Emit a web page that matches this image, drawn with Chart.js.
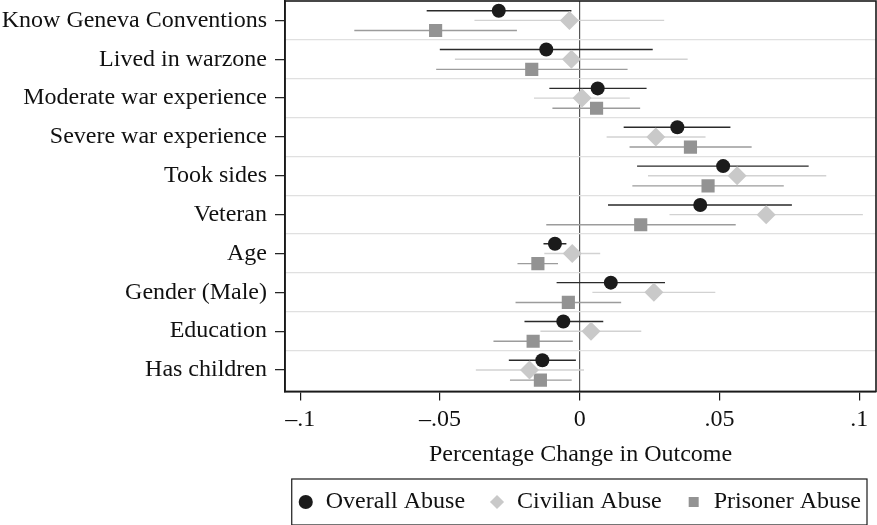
<!DOCTYPE html>
<html>
<head>
<meta charset="utf-8">
<script src="https://cdn.jsdelivr.net/npm/chart.js@4.4.1/dist/chart.umd.min.js"></script>
<style>
  html, body { margin: 0; padding: 0; background: #fff; }
  #wrap { width: 877px; height: 525px; position: relative; }
</style>
</head>
<body>
<div id="wrap"><canvas id="coefChart"></canvas></div>
<script>
// row labels, top to bottom
const categories = [
    "Know Geneva Conventions", "Lived in warzone", "Moderate war experience",
    "Severe war experience", "Took sides", "Veteran", "Age",
    "Gender (Male)", "Education", "Has children"
];

// point estimates
const overallEst  = [-0.029, -0.012, 0.0064, 0.0349, 0.0513, 0.0431, -0.0089, 0.0111, -0.0059, -0.0134];
const civilianEst = [-0.0037, -0.003, 0.0008, 0.0272, 0.0563, 0.0667, -0.0027, 0.0265, 0.004, -0.018];
const prisonerEst = [-0.0516, -0.0172, 0.006, 0.0396, 0.0459, 0.0218, -0.015, -0.0041, -0.0167, -0.0141];

// confidence intervals (low, high)
const overallLo  = [-0.0548, -0.0501, -0.0109, 0.0157, 0.0205, 0.0101, -0.013, -0.0083, -0.0198, -0.0254];
const overallHi  = [-0.003, 0.0261, 0.0239, 0.0539, 0.0819, 0.0759, -0.0048, 0.0305, 0.0084, -0.0014];
const civilianLo = [-0.0377, -0.0447, -0.0164, 0.0096, 0.0244, 0.0321, -0.0127, 0.0045, -0.0141, -0.0372];
const civilianHi = [0.0302, 0.0386, 0.0179, 0.045, 0.0882, 0.1013, 0.0073, 0.0485, 0.022, 0.0015];
const prisonerLo = [-0.0807, -0.0514, -0.0098, 0.0178, 0.0188, -0.012, -0.0223, -0.023, -0.0309, -0.025];
const prisonerHi = [-0.0225, 0.0171, 0.0216, 0.0615, 0.073, 0.0558, -0.0078, 0.0148, -0.0025, -0.0029];

const xTicks = [-0.1, -0.05, 0, 0.05, 0.1];
const xTickLabels = ["\u2013.1", "\u2013.05", "0", ".05", ".1"];

const seriesNames = ["Overall Abuse", "Civilian Abuse", "Prisoner Abuse"];
const rowShift = [-0.25, 0, 0.26];   // vertical offset inside each row

const serif = "'Liberation Serif', 'DejaVu Serif', serif";

const points = (est, k) => est.map((v, i) => ({ x: v, y: i + rowShift[k] }));

// each CI is a two-point segment, NaN point breaks the line
const segments = (lo, hi, k) => lo.flatMap((v, i) => [
    { x: v, y: i + rowShift[k] },
    { x: hi[i], y: i + rowShift[k] },
    { x: NaN, y: NaN }
]);

const frame = {
    id: "frame",
    afterLayout(chart) {
        // legend sits a little right of where chart.js puts it
        chart.legend.left += 9;
        chart.legend.right += 9;
    },
    afterDraw(chart) {
        const { ctx, chartArea: a } = chart;
        ctx.save();
        ctx.strokeStyle = "#1a1a1a";
        ctx.lineWidth = 1.6;
        ctx.strokeRect(a.left, a.top, a.right - a.left, a.bottom - a.top);

        // box round the legend items
        const boxes = chart.legend.legendHitBoxes;
        if (boxes && boxes.length) {
            const l = Math.min(...boxes.map(b => b.left)) - 6;
            const r = Math.max(...boxes.map(b => b.left + b.width)) + 6;
            const t = Math.min(...boxes.map(b => b.top)) - 11;
            const b2 = Math.max(...boxes.map(b => b.top + b.height)) + 11;
            ctx.lineWidth = 1.2;
            ctx.strokeRect(l, t, r - l, b2 - t);
        }
        ctx.restore();
    }
};

const ctx = document.getElementById("coefChart").getContext("2d");

new Chart(ctx, {
    type: "scatter",
    data: {
        datasets: [
            { label: seriesNames[0], data: points(overallEst, 0), pointStyle: "circle", pointRadius: 7,
              backgroundColor: "#1b1b1b", borderColor: "#1b1b1b", borderWidth: 0 },
            { label: seriesNames[1], data: points(civilianEst, 1), pointStyle: "rectRot", pointRadius: 9.5,
              backgroundColor: "#c9c9c9", borderColor: "#c9c9c9", borderWidth: 0 },
            { label: seriesNames[2], data: points(prisonerEst, 2), pointStyle: "rect", pointRadius: 9.3,
              backgroundColor: "#939393", borderColor: "#939393", borderWidth: 0 },
            { data: segments(overallLo, overallHi, 0), showLine: true, spanGaps: false, pointRadius: 0,
              borderColor: "#2a2a2a", borderWidth: 1.4 },
            { data: segments(civilianLo, civilianHi, 1), showLine: true, spanGaps: false, pointRadius: 0,
              borderColor: "#d2d2d2", borderWidth: 1.4 },
            { data: segments(prisonerLo, prisonerHi, 2), showLine: true, spanGaps: false, pointRadius: 0,
              borderColor: "#9c9c9c", borderWidth: 1.4 }
        ]
    },
    options: {
        responsive: true,
        maintainAspectRatio: false,
        animation: false,
        layout: { autoPadding: false, padding: { top: 1, right: 1, bottom: 1, left: 0 } },
        scales: {
            x: {
                type: "linear",
                min: -0.1055,
                max: 0.106,
                afterBuildTicks: (scale) => { scale.ticks = xTicks.map(v => ({ value: v })); },
                afterFit: (scale) => { scale.paddingLeft = 0; scale.paddingRight = 0; },
                border: { display: true, color: "#1a1a1a", width: 1.6 },
                grid: {
                    drawOnChartArea: true,
                    tickLength: 9,
                    tickColor: "#1a1a1a",
                    tickWidth: 1.2,
                    color: (c) => (c.tick && c.tick.value === 0 ? "#555" : "rgba(0,0,0,0)"),
                    lineWidth: 1.2
                },
                ticks: {
                    color: "#111",
                    font: { family: serif, size: 24 },
                    padding: 5,
                    autoSkip: false,
                    maxRotation: 0,
                    callback: (v) => {
                        const i = xTicks.findIndex(t => Math.abs(t - v) < 1e-9);
                        return i >= 0 ? xTickLabels[i] : "";
                    }
                },
                title: {
                    display: true,
                    text: "Percentage Change in Outcome",
                    color: "#111",
                    font: { family: serif, size: 24 },
                    padding: { top: 1, bottom: -3 }
                }
            },
            y: {
                type: "linear",
                reverse: true,
                min: -0.5,
                max: 9.55,
                afterBuildTicks: (scale) => {
                    const t = [];
                    for (let v = 0; v <= 9.5; v += 0.5) t.push({ value: v });
                    scale.ticks = t;
                },
                afterFit: (scale) => {
                    scale.width = 285;
                    scale.paddingTop = 0;
                    scale.paddingBottom = 0;
                },
                border: { display: true, color: "#1a1a1a", width: 1.6 },
                grid: {
                    drawOnChartArea: true,
                    tickLength: 10,
                    tickWidth: 1.2,
                    tickColor: (c) => (c.tick && Number.isInteger(c.tick.value) ? "#1a1a1a" : "rgba(0,0,0,0)"),
                    color: (c) => (c.tick && !Number.isInteger(c.tick.value) && c.tick.value < 9 ? "#e0e0e0" : "rgba(0,0,0,0)"),
                    lineWidth: 1.3
                },
                ticks: {
                    color: "#111",
                    font: { family: serif, size: 24 },
                    padding: 8,
                    autoSkip: false,
                    callback: (v) => (Number.isInteger(v) ? categories[v] : "")
                }
            }
        },
        plugins: {
            legend: {
                position: "bottom",
                align: "end",
                labels: {
                    usePointStyle: true,
                    boxWidth: 16,
                    boxHeight: 10,
                    padding: 24,
                    color: "#111",
                    font: { family: serif, size: 24 },
                    filter: (item) => !!item.text
                }
            },
            tooltip: { enabled: false }
        }
    },
    plugins: [frame]
});
</script>
</body>
</html>
